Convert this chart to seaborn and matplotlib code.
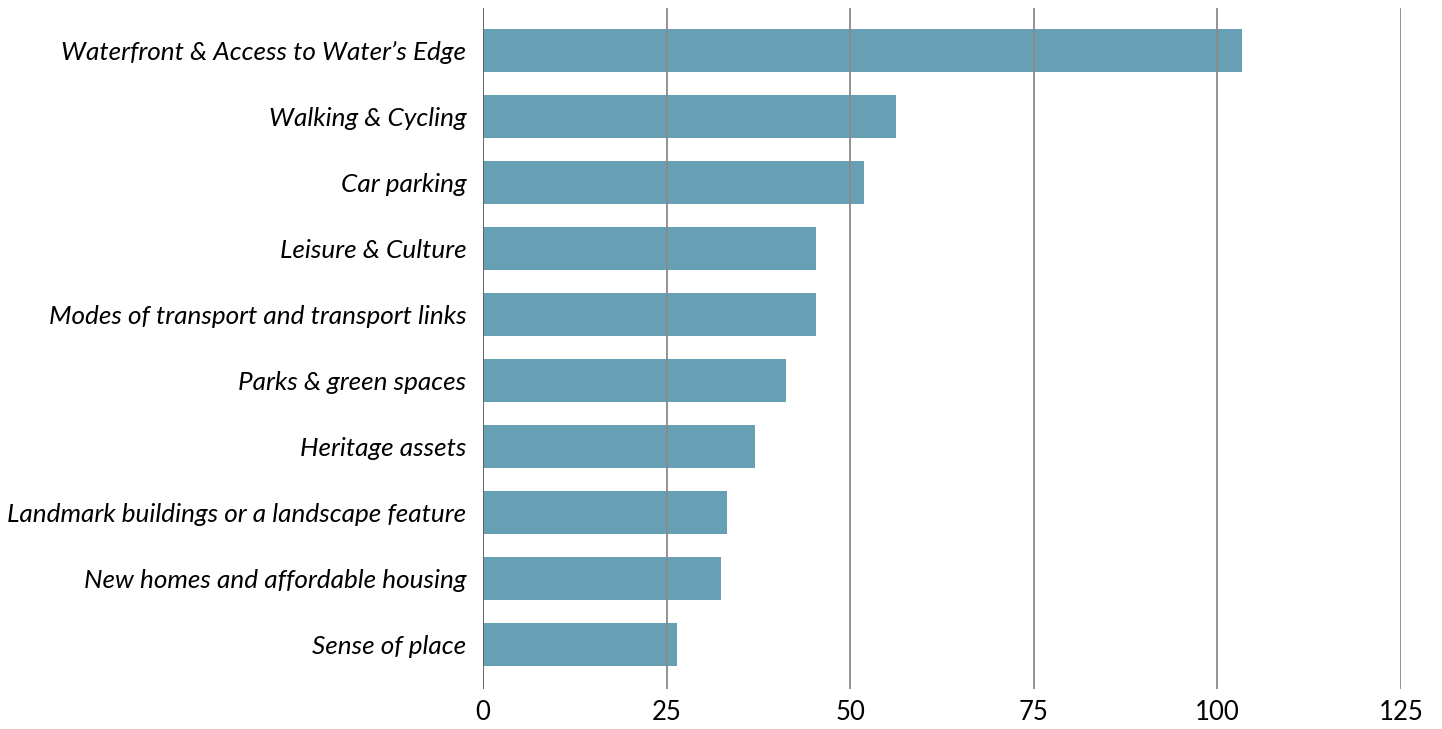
import numpy as np
import pandas as pd
import matplotlib.pyplot as plt
import seaborn as sns

categories = ["Waterfront & Access to Water\u2019s Edge", "Walking & Cycling", "Car parking",
              "Leisure & Culture", "Modes of transport and transport links",
              "Parks & green spaces", "Heritage assets",
              "Landmark buildings or a landscape feature",
              "New homes and affordable housing", "Sense of place"]
counts = [103.3, 56.2, 51.9, 45.4, 45.4, 41.3, 37.1, 33.2, 32.4, 26.4]
xticks = [0, 25, 50, 75, 100, 125]

df = pd.DataFrame({"topic": categories, "count": counts})

sns.set_style("white")
plt.rcParams['font.family'] = ['Lato', 'DejaVu Sans']

fig = plt.figure(figsize=(14.42, 7.29), dpi=100)
ax = fig.add_axes([483/1442, 40/729, 918/1442, 681/729])

sns.barplot(data=df, y="topic", x="count", orient="h", color="#679fb5",
            saturation=1, width=0.65, linewidth=0, ax=ax, zorder=1)

ax.set_xlim(0, 125)
ax.set_ylim(9.67, -0.65)
ax.set_xticks(xticks)
for x in xticks:
    ax.axvline(x, color="#5a5a5a" if x == 0 else "#8a8a8a", lw=1.3, zorder=3)

for s in ax.spines.values():
    s.set_visible(False)
ax.set_xlabel("")
ax.set_ylabel("")
ax.tick_params(axis="x", length=0, pad=8, labelsize=18.5, labelcolor="black")
ax.tick_params(axis="y", length=0, pad=12, labelsize=18.8, labelcolor="black")
for lab in ax.get_yticklabels():
    lab.set_style("italic")

fig.savefig("out.png", dpi=100)
